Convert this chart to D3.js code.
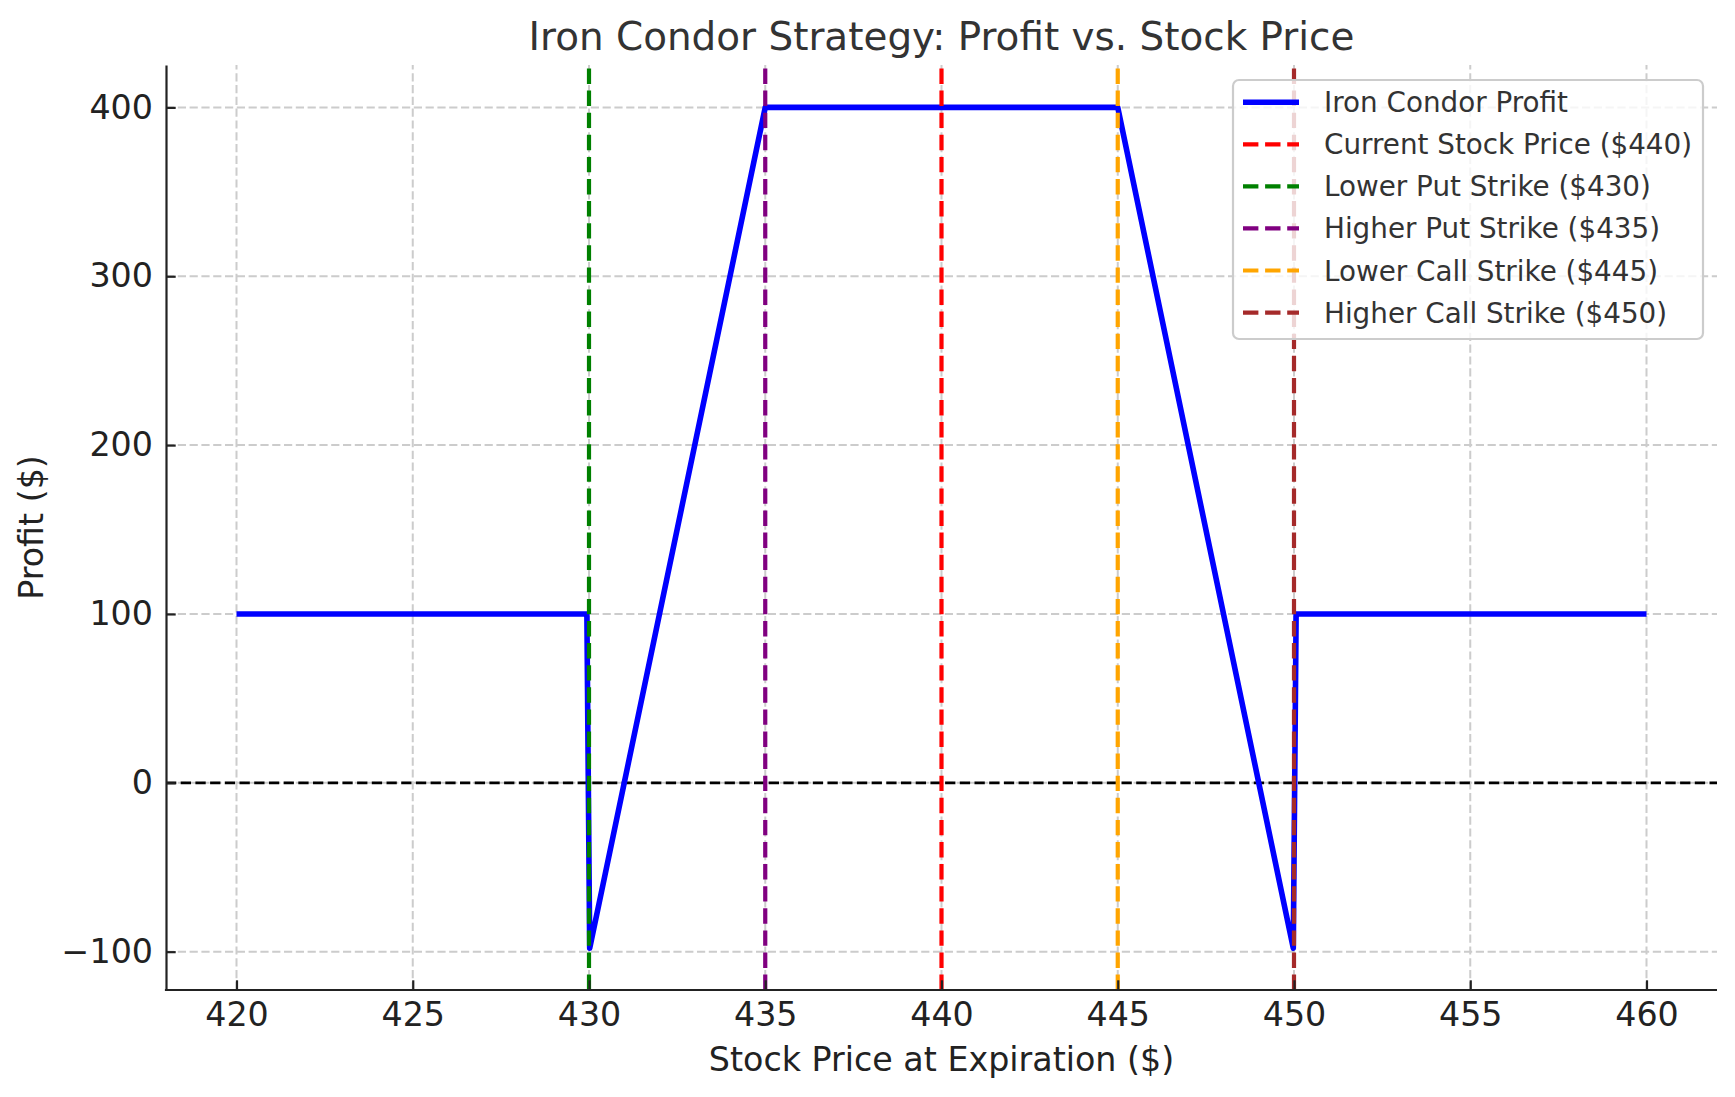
<!DOCTYPE html>
<html>
<head>
<meta charset="utf-8">
<script src="https://cdn.jsdelivr.net/npm/d3@7"></script>
<style>
  html, body { margin: 0; padding: 0; background: #ffffff; }
  svg { display: block; }
  text { font-family: "DejaVu Sans", sans-serif; }
</style>
</head>
<body>
<svg id="chart" width="1735" height="1097"></svg>
<script>
// ---- data ----
const priceVertices  = [420, 429.94, 430.02, 435, 445, 449.98, 450.06, 460];
const profitVertices = [100, 100, -98, 400, 400, -98, 100, 100];

const strikePrices = [440, 430, 435, 445, 450];
const strikeLabels = [
  "Current Stock Price ($440)",
  "Lower Put Strike ($430)",
  "Higher Put Strike ($435)",
  "Lower Call Strike ($445)",
  "Higher Call Strike ($450)"
];
const strikeColors = ["#ff0000", "#008000", "#800080", "#ffa500", "#a52a2a"];

const xTicks = [420, 425, 430, 435, 440, 445, 450, 455, 460];
const yTicks = [-100, 0, 100, 200, 300, 400];

const titleText = "Iron Condor Strategy: Profit vs. Stock Price";
const xLabelText = "Stock Price at Expiration ($)";
const yLabelText = "Profit ($)";
const lineLabel = "Iron Condor Profit";

(function () {
// ---- layout ----
const pLeft = 166, pRight = 1717, pTop = 65, pBottom = 990;
const svg = d3.select("#chart");

const x = d3.scaleLinear().domain([418, 462]).range([pLeft, pRight]);
const y = d3.scaleLinear().domain([-122.7, 425.1]).range([pBottom, pTop]);

// grid
const grid = svg.append("g");
grid.selectAll("line.gx").data(xTicks).join("line")
  .attr("class", "gx")
  .attr("x1", d => x(d)).attr("x2", d => x(d))
  .attr("y1", pBottom).attr("y2", pTop)
  .attr("stroke", "#cccccc").attr("stroke-width", 2)
  .attr("stroke-dasharray", "8.2,3.6");
grid.selectAll("line.gy").data(yTicks).join("line")
  .attr("class", "gy")
  .attr("x1", pLeft).attr("x2", pRight)
  .attr("y1", d => y(d)).attr("y2", d => y(d))
  .attr("stroke", "#cccccc").attr("stroke-width", 2)
  .attr("stroke-dasharray", "8.2,3.6");

// zero line
svg.append("line")
  .attr("x1", pLeft).attr("x2", pRight)
  .attr("y1", y(0)).attr("y2", y(0))
  .attr("stroke", "#000").attr("stroke-width", 2.8)
  .attr("stroke-dasharray", "10.3,4.4");

// profit line
const pts = priceVertices.map((p, i) => [p, profitVertices[i]]);
svg.append("path")
  .datum(pts)
  .attr("fill", "none")
  .attr("stroke", "#0000ff")
  .attr("stroke-width", 5.6)
  .attr("stroke-linejoin", "round")
  .attr("stroke-linecap", "butt")
  .attr("d", d3.line().x(d => x(d[0])).y(d => y(d[1])));

// strike lines
svg.append("g").selectAll("line").data(strikePrices).join("line")
  .attr("x1", d => x(d)).attr("x2", d => x(d))
  .attr("y1", pBottom).attr("y2", pTop)
  .attr("stroke", (d, i) => strikeColors[i])
  .attr("stroke-width", 4.2)
  .attr("stroke-dasharray", "15.4,6.7");

// axes
const xAxis = d3.axisBottom(x).tickValues(xTicks).tickFormat(d3.format("d"))
  .tickSizeInner(-9.7).tickSizeOuter(0).tickPadding(12);
const yAxis = d3.axisLeft(y).tickValues(yTicks).tickFormat(d3.format("d"))
  .tickSizeInner(-9.7).tickSizeOuter(0).tickPadding(13);

const gx = svg.append("g").attr("transform", `translate(0,${pBottom})`).call(xAxis);
const gy = svg.append("g").attr("transform", `translate(${pLeft},0)`).call(yAxis);
[gx, gy].forEach(g => {
  g.select(".domain").attr("stroke", "#222").attr("stroke-width", 2.2);
  g.selectAll(".tick line").attr("stroke", "#222").attr("stroke-width", 2.2);
  g.selectAll(".tick text").attr("fill", "#222")
    .style("font-family", "DejaVu Sans").style("font-size", "33.3px");
});
gx.select(".domain").attr("d", `M${pLeft - 1.1},0H${pRight}`);

// title & labels
svg.append("text")
  .attr("x", (pLeft + pRight) / 2).attr("y", 50)
  .attr("text-anchor", "middle")
  .attr("fill", "#333").style("font-size", "38.9px")
  .text(titleText);
svg.append("text")
  .attr("x", (pLeft + pRight) / 2).attr("y", 1071)
  .attr("text-anchor", "middle")
  .attr("fill", "#222").style("font-size", "33.3px")
  .text(xLabelText);
svg.append("text")
  .attr("transform", `translate(43,${(pTop + pBottom) / 2}) rotate(-90)`)
  .attr("text-anchor", "middle")
  .attr("fill", "#222").style("font-size", "33.3px")
  .text(yLabelText);

// legend
const lg = svg.append("g");
lg.append("rect")
  .attr("x", 1233).attr("y", 80).attr("width", 470).attr("height", 259)
  .attr("rx", 6).attr("ry", 6)
  .attr("fill", "rgba(255,255,255,0.8)")
  .attr("stroke", "#cccccc").attr("stroke-width", 2.2);

const legendItems = [{label: lineLabel, color: "#0000ff", dash: null, w: 5.6}]
  .concat(strikeLabels.map((l, i) => ({label: l, color: strikeColors[i], dash: "15.4,6.7", w: 4.2})));
const rowY = i => 102.3 + i * 42.05;
const items = lg.selectAll("g.item").data(legendItems).join("g").attr("class", "item");
items.append("line")
  .attr("x1", 1243).attr("x2", 1299)
  .attr("y1", (d, i) => rowY(i)).attr("y2", (d, i) => rowY(i))
  .attr("stroke", d => d.color).attr("stroke-width", d => d.w)
  .attr("stroke-dasharray", d => d.dash);
items.append("text")
  .attr("x", 1324).attr("y", (d, i) => rowY(i))
  .attr("dy", "0.36em")
  .attr("fill", "#333").style("font-size", "27.8px")
  .text(d => d.label);
})();
</script>
</body>
</html>
